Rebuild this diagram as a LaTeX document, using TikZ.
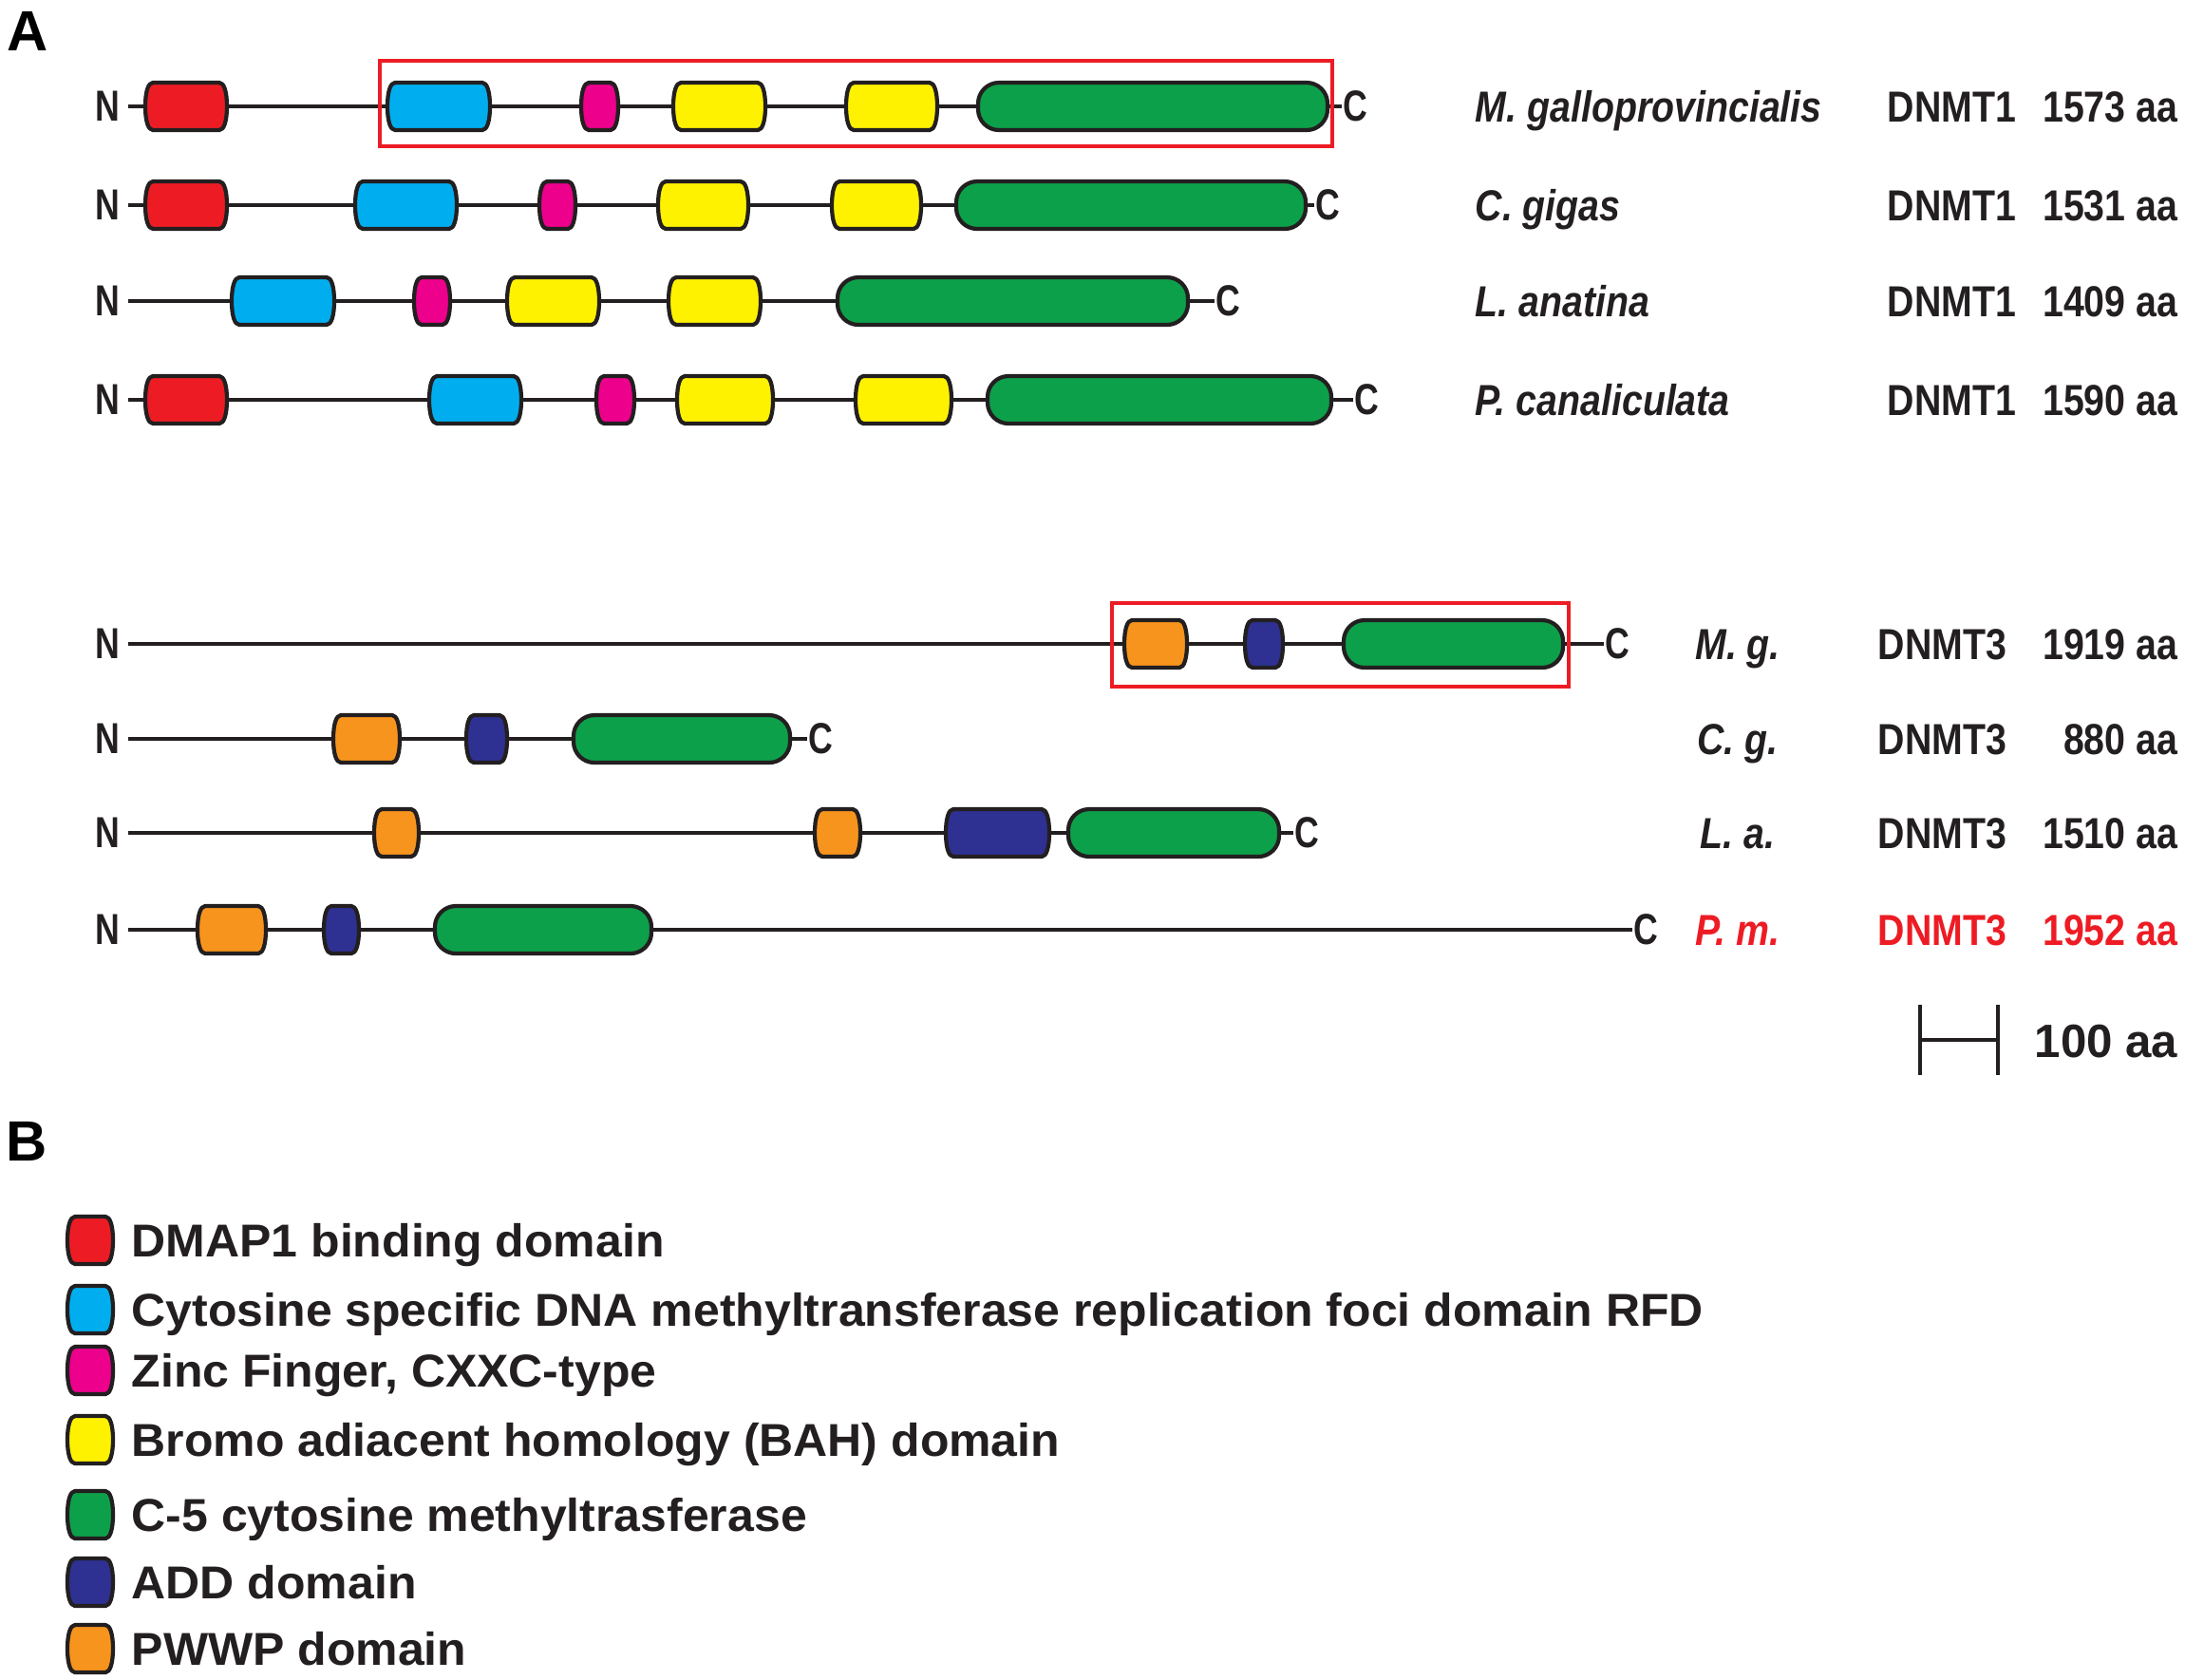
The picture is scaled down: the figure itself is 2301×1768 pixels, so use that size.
\documentclass[tikz,border=0pt]{standalone}
\usepackage{fontspec}
\setmainfont{Liberation Sans}
\newfontfamily\tagfont{Liberation Sans}[FakeStretch=0.86]
\newfontfamily\endfont{Liberation Sans}[FakeStretch=0.78]
\newfontfamily\keyfont{Liberation Sans}[FakeStretch=1.03]

\definecolor{outline}{HTML}{231F20}
\definecolor{dmap}{HTML}{ED1C24}
\definecolor{rfd}{HTML}{00AEEF}
\definecolor{cxxc}{HTML}{EC008C}
\definecolor{bah}{HTML}{FFF200}
\definecolor{cfivegreen}{HTML}{0DA04A}
\definecolor{add}{HTML}{2E3192}
\definecolor{pwwp}{HTML}{F7941D}
\definecolor{boxred}{HTML}{ED1C24}

% barrel shaped domain: from, to, row, colour
\newcommand{\barrel}[4]{\filldraw[dom, fill=#4] ({#1+8},{#3-25}) -- ({#2-8},{#3-25})
  .. controls ({#2-3},{#3-25}) and ({#2},{#3-15}) .. ({#2},{#3})
  .. controls ({#2},{#3+15}) and ({#2-3},{#3+25}) .. ({#2-8},{#3+25})
  -- ({#1+8},{#3+25}) .. controls ({#1+3},{#3+25}) and ({#1},{#3+15}) .. ({#1},{#3})
  .. controls ({#1},{#3-15}) and ({#1+3},{#3-25}) .. cycle;}
% C-5 methyltransferase domain: from, to, row
\newcommand{\cfive}[3]{\filldraw[dom, fill=cfivegreen, rounded corners=0.22cm] (#1,{#3-25}) rectangle (#2,{#3+25});}

\begin{document}
\begin{tikzpicture}[x=0.01cm, y=-0.01cm,
		backbone/.style={draw=outline, line width=1pt, shorten <=0.08cm},
		dom/.style={draw=outline, line width=1.2pt, line join=round},
		hilite/.style={draw=boxred, line width=1.1pt},
		term/.style={inner sep=0pt, text=outline, font=\endfont\bfseries\fontsize{13}{13}\selectfont},
		species/.style={inner sep=0pt, text=outline, font=\tagfont\bfseries\itshape\fontsize{13}{13}\selectfont},
		gene/.style={inner sep=0pt, anchor=base west, text=outline, font=\tagfont\bfseries\fontsize{13}{13}\selectfont},
		len/.style={inner sep=0pt, anchor=base east, text=outline, font=\tagfont\bfseries\fontsize{13}{13}\selectfont},
		key/.style={inner sep=0pt, anchor=base west, text=outline, font=\keyfont\bfseries\fontsize{13.8}{13.8}\selectfont},
		panel/.style={inner sep=0pt, anchor=base west, font=\bfseries\fontsize{17}{17}\selectfont}
		]
	\useasboundingbox (0,0) rectangle (2301,1768);
	\node[panel] (pA) at (7,53) {A};
	\node[panel] (pB) at (6,1222) {B};

	% DNMT1
	\node[term] (n1) at (113,112) {N};
	\node[term] (c1) at (1427,112) {C};
	\draw[backbone] (n1) -- (c1);
	\foreach \a/\b/\c in {153/239/dmap, 408/516/rfd, 612/651/cxxc, 709/806/bah, 891/987/bah}
		\barrel{\a}{\b}{112}{\c};
	\cfive{1030}{1398}{112}
	\draw[hilite] (400,64) rectangle (1403,154);

	\node[term] (n2) at (113,216) {N};
	\node[term] (c2) at (1398,216) {C};
	\draw[backbone] (n2) -- (c2);
	\foreach \a/\b/\c in {153/239/dmap, 374/481/rfd, 568/606/cxxc, 693/788/bah, 876/970/bah}
		\barrel{\a}{\b}{216}{\c};
	\cfive{1007}{1375}{216}

	\node[term] (n3) at (113,317) {N};
	\node[term] (c3) at (1293,317) {C};
	\draw[backbone] (n3) -- (c3);
	\foreach \a/\b/\c in {244/352/rfd, 436/474/cxxc, 534/631/bah, 704/801/bah}
		\barrel{\a}{\b}{317}{\c};
	\cfive{882}{1251}{317}

	\node[term] (n4) at (113,421) {N};
	\node[term] (c4) at (1439,421) {C};
	\draw[backbone] (n4) -- (c4);
	\foreach \a/\b/\c in {153/239/dmap, 452/549/rfd, 628/668/cxxc, 713/814/bah, 901/1002/bah}
		\barrel{\a}{\b}{421}{\c};
	\cfive{1040}{1402}{421}

	\foreach \y/\s/\n [count=\i] in {112/M. galloprovincialis/1573, 216/C. gigas/1531, 317/L. anatina/1409, 421/P. canaliculata/1590}{
		\node[species, anchor=base west] (sp\i) at (1553,{\y+16}) {\s};
		\node[gene] (g\i) at (1987,{\y+16}) {DNMT1};
		\node[len] (l\i) at (2294,{\y+16}) {\n\ aa};
	}

	% DNMT3
	\node[term] (n5) at (113,678) {N};
	\node[term] (c5) at (1703,678) {C};
	\draw[backbone] (n5) -- (c5);
	\foreach \a/\b/\c in {1184/1250/pwwp, 1311/1351/add}
		\barrel{\a}{\b}{678}{\c};
	\cfive{1415}{1646}{678}
	\draw[hilite] (1171,635) rectangle (1652,723);

	\node[term] (n6) at (113,778) {N};
	\node[term] (c6) at (864,778) {C};
	\draw[backbone] (n6) -- (c6);
	\foreach \a/\b/\c in {351/421/pwwp, 491/534/add}
		\barrel{\a}{\b}{778}{\c};
	\cfive{604}{832}{778}

	\node[term] (n7) at (113,877) {N};
	\node[term] (c7) at (1376,877) {C};
	\draw[backbone] (n7) -- (c7);
	\foreach \a/\b/\c in {394/441/pwwp, 858/906/pwwp, 996/1105/add}
		\barrel{\a}{\b}{877}{\c};
	\cfive{1125}{1347}{877}

	\node[term] (n8) at (113,979) {N};
	\node[term] (c8) at (1733,979) {C};
	\draw[backbone] (n8) -- (c8);
	\foreach \a/\b/\c in {208/280/pwwp, 341/378/add}
		\barrel{\a}{\b}{979}{\c};
	\cfive{458}{686}{979}

	\foreach \y/\s/\n/\col [count=\i from 5] in {678/M. g./1919/outline, 778/C. g./880/outline, 877/L. a./1510/outline, 979/P. m./1952/boxred}{
		\node[species, anchor=base, text=\col] (sp\i) at (1830,{\y+16}) {\s};
		\node[gene, text=\col] (g\i) at (1977,{\y+16}) {DNMT3};
		\node[len, text=\col] (l\i) at (2294,{\y+16}) {\n\ aa};
	}

	% scale bar
	\coordinate (sbl) at (2022,1095);
	\coordinate (sbr) at (2104,1095);
	\draw[outline, line width=1.1pt] (sbl) -- (sbr) (2022,1058) -- (2022,1132) (2104,1058) -- (2104,1132);
	\node[key, font=\bfseries\fontsize{14}{14}\selectfont] (bar) at (2142,1113) {100 aa};

	% legend
	\foreach \y/\c/\t in {1306/dmap/{DMAP1 binding domain},
			1379/rfd/{Cytosine specific DNA methyltransferase replication foci domain RFD},
			1443/cxxc/{Zinc Finger, CXXC-type},
			1516/bah/{Bromo adiacent homology (BAH) domain},
			1595/cfivegreen/{C-5 cytosine methyltrasferase},
			1666/add/{ADD domain},
			1736/pwwp/{PWWP domain}}{
		\barrel{71}{119}{\y}{\c}
		\node[key] (k\c) at (138,{\y+17}) {\t};
	}
\end{tikzpicture}
\end{document}
